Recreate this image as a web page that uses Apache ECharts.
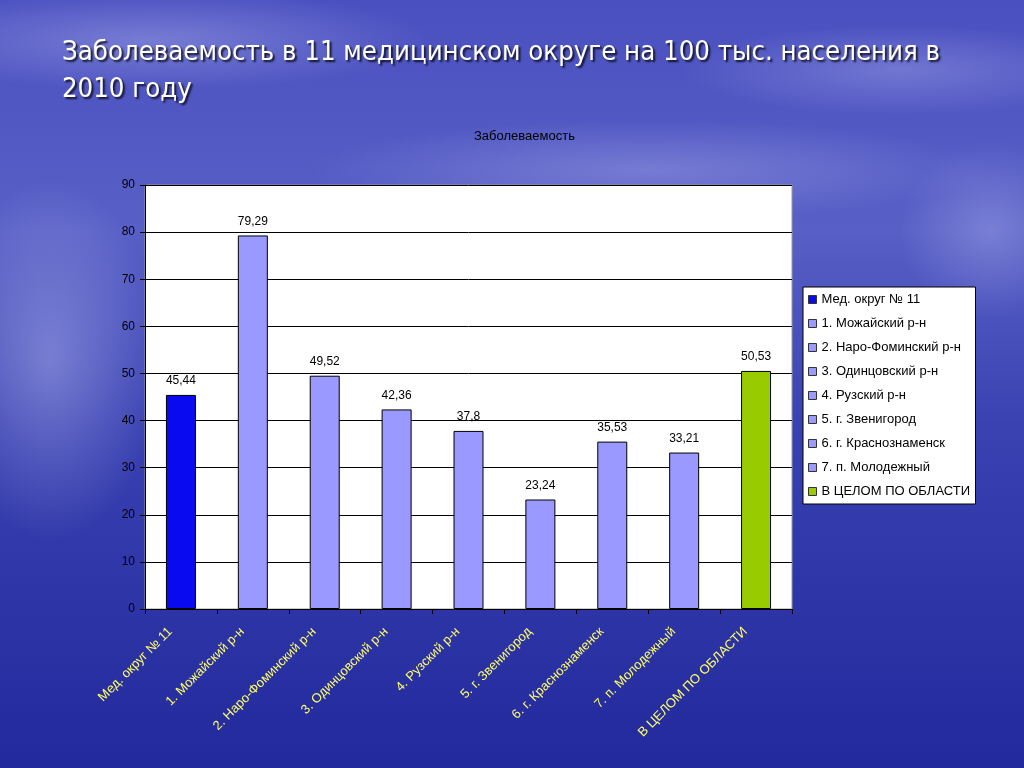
<!DOCTYPE html>
<html><head><meta charset="utf-8">
<script src="https://cdn.jsdelivr.net/npm/echarts@6/dist/echarts.min.js"></script>
<style>html,body{margin:0;padding:0;width:1024px;height:768px;overflow:hidden;}
#c{width:1024px;height:768px;}</style></head>
<body><div id="c"></div>
<script>
const categories = ['Мед. округ № 11','1. Можайский р-н','2. Наро-Фоминский р-н','3. Одинцовский р-н','4. Рузский р-н','5. г. Звенигород','6. г. Краснознаменск','7. п. Молодежный','В ЦЕЛОМ ПО ОБЛАСТИ'];
const values = [45.44, 79.29, 49.52, 42.36, 37.8, 23.24, 35.53, 33.21, 50.53];
const colors = ['#0a0af0','#9999ff','#9999ff','#9999ff','#9999ff','#9999ff','#9999ff','#9999ff','#99cc00'];
const yTicks = [0,10,20,30,40,50,60,70,80,90];

const series = categories.map((name,i)=>({
  name: name,
  type: 'bar',
  stack: 'all',
  barWidth: 30,
  data: categories.map((c,j)=> j===i ? values[i] : '-'),
  itemStyle: {color: colors[i], borderColor:'#000', borderWidth:1},
  label: {show:true, position:'top', distance:8, color:'#000', fontSize:12, fontFamily:'Liberation Sans, Arial, sans-serif',
    formatter: p => String(p.value).replace('.', ',')}
}));

function cloud(cx, cy, rx, ry, op){
  return {type:'circle', silent:true, z:-10, x:cx, y:cy, scaleX:rx/100, scaleY:ry/100,
    shape:{cx:0, cy:0, r:100},
    style:{fill:{type:'radial', x:0.5, y:0.5, r:0.5, colorStops:[
      {offset:0, color:'rgba(215,220,255,'+op+')'},{offset:1, color:'rgba(215,220,255,0)'}]}}};
}

const chart = echarts.init(document.getElementById('c'));
chart.setOption({
  backgroundColor: {type:'linear', x:0, y:0, x2:0, y2:1, colorStops:[
    {offset:0, color:'#4a50c0'},{offset:0.3,color:'#5860c6'},{offset:0.55,color:'#3a42b2'},{offset:1,color:'#22299c'}]},
  animation:false,
  graphic: [
    cloud(150, 40, 280, 50, 0.3),
    cloud(900, 70, 220, 45, 0.25),
    cloud(50, 360, 110, 180, 0.35),
    cloud(650, 170, 340, 50, 0.25),
    cloud(990, 230, 90, 90, 0.25)
  ],
  title: [{
    text: 'Заболеваемость в 11 медицинском округе на 100 тыс. населения в\n2010 году',
    left: 57, top: 29,
    textStyle: {color:'#fff', fontSize:27.3, fontWeight:'normal', lineHeight:37,
      fontFamily:'Liberation Sans Narrow, DejaVu Sans Condensed, sans-serif',
      textShadowColor:'rgba(0,0,0,0.8)', textShadowBlur:2, textShadowOffsetX:2, textShadowOffsetY:2}
  },{
    text: 'Заболеваемость', left: 469, top: 125,
    textStyle:{color:'#000', fontSize:13, fontWeight:'normal', fontFamily:'Liberation Sans, Arial, sans-serif'}
  }],
  legend: {
    orient:'vertical', left: 803, top: 287,
    data: categories,
    backgroundColor:'#fff', borderColor:'#000', borderWidth:1,
    padding:[5,5,5,5], itemGap:9, itemWidth:8, itemHeight:8, icon:'rect',
    itemStyle:{borderColor:'#333', borderWidth:1},
    textStyle:{color:'#000', fontSize:13, lineHeight:15, fontFamily:'Liberation Sans, Arial, sans-serif', width:149}
  },
  grid: {left:145, right:232, top:185, bottom:159, show:true, backgroundColor:'#fff', borderColor:'#999', borderWidth:1},
  xAxis: {
    type:'category', data: categories,
    axisLine:{lineStyle:{color:'#000'}},
    axisTick:{show:true, alignWithLabel:false, length:5, lineStyle:{color:'#000'}},
    axisLabel:{rotate:45, interval:0, color:'#ffff66', fontSize:13, margin:10, padding:[0,15,14,0],
      fontFamily:'Liberation Sans, Arial, sans-serif'}
  },
  yAxis: {
    type:'value', min:0, max:90, interval:10,
    axisLine:{show:true, lineStyle:{color:'#000'}},
    axisTick:{show:true, length:5, lineStyle:{color:'#000'}},
    splitLine:{show:true, lineStyle:{color:'#000', width:1}},
    axisLabel:{color:'#000', fontSize:12, margin:10, fontFamily:'Liberation Sans, Arial, sans-serif',
      formatter: v => yTicks.includes(v) ? String(v) : ''}
  },
  series: series
});
</script></body></html>
